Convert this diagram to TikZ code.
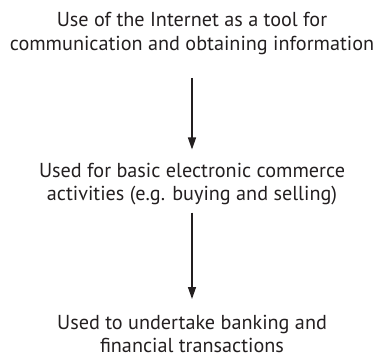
\documentclass[tikz,border=0pt]{standalone}
\usepackage{fontspec}
\setmainfont{PT Sans}
\usetikzlibrary{arrows.meta}
\definecolor{ink}{HTML}{231F20}
\tikzset{
  stage/.style={font=\fontsize{20.2}{23}\selectfont, text=ink, align=center, inner sep=0pt},
  flow/.style={draw=ink, line width=1.4pt, -{Triangle[length=12pt,width=8pt]}}
}
\begin{document}
\begin{tikzpicture}[x=1pt,y=1pt]
\useasboundingbox (0,0) rectangle (377,357);

% the three stages, top to bottom (base = last line)
\node[stage, anchor=base] (use) at (192,307) {Use of the Internet as a tool for\\communication and obtaining information};
\node[stage, anchor=base] (commerce) at (192,157) {Used for basic electronic commerce\\activities (e.g. buying and selling)};
\node[stage, anchor=base] (banking) at (192,5) {Used to undertake banking and\\financial transactions};

% arrows between stages
\draw[flow, shorten <=23.5pt, shorten >=13pt] (use) -- (commerce);
\draw[flow, shorten <=8pt, shorten >=15.5pt] (commerce) -- (banking);
\end{tikzpicture}
\end{document}
